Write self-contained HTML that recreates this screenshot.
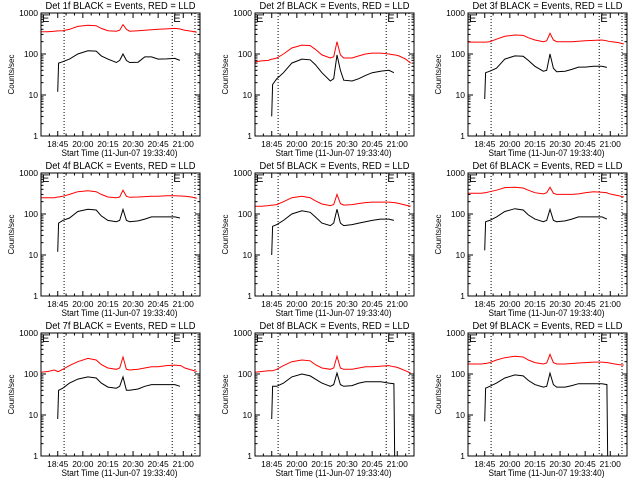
<!DOCTYPE html>
<html><head><meta charset="utf-8"><style>
html,body{margin:0;padding:0;background:#fff;}
svg{display:block;font-family:"Liberation Sans",sans-serif;}
</style></head><body>
<svg id="chart" width="640" height="480" viewBox="0 0 640 480" xmlns="http://www.w3.org/2000/svg">
<rect width="640" height="480" fill="#fff"/>
</svg>
<script>
// minutes since 19:35
const times = [0,4,8,10,10.5,13,17,22,28,33,36,40,45,47,49,51,53,58,62,66,70,75,80,83,83.5,86,90,93];
const n = null;
const detNames = ["1f","2f","3f","4f","5f","6f","7f","8f","9f"];
const red1 = [350,350,360,365,365,370,400,470,500,490,420,370,360,380,520,400,360,370,380,390,400,410,420,410,400,380,360,340];
const black1 = [n,n,n,12,60,65,75,100,120,118,90,75,62,70,100,70,62,63,85,85,75,76,78,70,n,n,n,n];
const red2 = [65,68,70,75,75,80,100,140,165,160,130,95,80,85,200,95,80,80,90,100,105,105,100,95,95,90,75,60];
const black2 = [n,n,n,3,18,25,35,60,75,72,55,35,22,25,95,40,23,22,25,30,35,38,40,35,n,n,n,n];
const red3 = [195,195,195,195,195,200,230,270,290,285,250,220,200,210,320,220,200,200,200,205,210,215,220,210,205,200,190,175];
const black3 = [n,n,n,8,35,38,45,75,90,88,70,50,38,40,100,45,37,38,42,48,48,50,50,47,n,n,n,n];
const red4 = [250,250,250,260,260,270,300,350,370,350,300,260,250,260,380,270,255,260,265,270,270,280,280,275,275,270,260,240];
const black4 = [n,n,n,12,60,70,80,115,130,125,90,70,65,70,130,70,65,68,75,85,85,85,85,80,n,n,n,n];
const red5 = [155,155,160,165,165,170,200,250,270,250,210,175,160,170,300,180,165,170,180,190,195,195,195,190,190,180,165,155];
const black5 = [n,n,n,10,50,55,70,100,120,110,85,60,52,60,130,60,52,55,60,65,70,75,75,70,n,n,n,n];
const red6 = [320,320,320,330,330,350,380,440,450,430,380,330,310,330,450,320,300,300,300,310,330,350,340,330,320,300,280,260];
const black6 = [n,n,n,13,65,70,85,115,135,125,95,75,65,70,130,70,65,68,75,85,85,85,85,75,n,n,n,n];
const red7 = [110,115,125,115,115,130,160,200,240,220,170,140,130,140,260,130,125,130,140,150,150,160,165,160,160,140,125,115];
const black7 = [n,n,n,8,40,45,60,75,85,80,60,48,45,50,85,40,40,43,50,55,55,55,55,50,n,n,n,n];
const red8 = [110,115,120,120,120,130,160,200,220,210,170,140,130,140,270,140,130,130,140,150,150,155,160,150,150,140,120,105];
const black8 = [n,n,n,8,50,50,60,85,100,90,75,60,50,55,105,55,50,52,60,65,65,65,60,58,0.5,n,n,n];
const red9 = [175,175,175,180,180,190,220,250,270,260,220,190,175,185,300,190,175,175,180,185,190,195,195,190,190,180,170,165];
const black9 = [n,n,n,7,45,50,60,80,95,90,70,55,48,50,105,55,48,48,52,58,58,58,58,55,0.5,n,n,n];
const reds = [red1,red2,red3,red4,red5,red6,red7,red8,red9];
const blacks = [black1,black2,black3,black4,black5,black6,black7,black8,black9];
const xTickMin = [10,25,40,55,70,85];
const xTickLabels = ["18:45","20:00","20:15","20:30","20:45","21:00"];
const yTickVals = [1,10,100,1000];
const yTickLabels = ["1","10","100","1000"];
const dottedMin = [13.8,78.4,92];

const NS="http://www.w3.org/2000/svg";
const svg=document.getElementById('chart');
function mk(tag,attrs,parent){const e=document.createElementNS(NS,tag);for(const k in attrs)e.setAttribute(k,attrs[k]);(parent||svg).appendChild(e);return e;}
const colL=[41,255,468], rowT=[13,173,333], W=159, H=123;
for(let p=0;p<9;p++){
  const L=colL[p%3], T=rowT[Math.floor(p/3)];
  const xs=m=>L+m*(W/95);
  const ys=v=>T+H-(Math.log10(v))*(H/3);
  const g=mk('g',{});
  
  
  const cp=mk('clipPath',{id:'cp'+p},g);
  mk('rect',{x:L,y:T,width:W,height:H},cp);
  const t=mk('text',{x:L+W/2,y:T-4,'text-anchor':'middle','font-size':10,textLength:150,lengthAdjust:'spacingAndGlyphs'},g);
  t.textContent='Det '+detNames[p]+' BLACK = Events, RED = LLD';
  
  
  const yt=mk('text',{x:0,y:0,transform:`translate(${L-27},${T+H/2}) rotate(-90)`,'text-anchor':'middle','font-size':8},g);
  yt.textContent='Counts/sec';
  
  
  const xt=mk('text',{x:L+W/2-1,y:T+H+20,'text-anchor':'middle','font-size':9,textLength:116,lengthAdjust:'spacingAndGlyphs'},g);
  xt.textContent='Start Time (11-Jun-07 19:33:40)';
  
  
  yTickVals.forEach((v,i)=>{
    const y=ys(v);
    mk('line',{x1:L,x2:L+5,y1:y,y2:y,stroke:'#000'},g);
    mk('line',{x1:L+W-5,x2:L+W,y1:y,y2:y,stroke:'#000'},g);
    const lb=mk('text',{x:L-3,y:y+3,'text-anchor':'end','font-size':8.5},g);
    lb.textContent=yTickLabels[i];
    
    
    if(v<1000)for(let k=2;k<10;k++){const yy=ys(v*k);
      mk('line',{x1:L,x2:L+2.5,y1:yy,y2:yy,stroke:'#000'},g);
      mk('line',{x1:L+W-2.5,x2:L+W,y1:yy,y2:yy,stroke:'#000'},g);}
  });
  xTickMin.forEach((m,i)=>{
    const x=xs(m);
    mk('line',{x1:x,x2:x,y1:T+H,y2:T+H-5,stroke:'#000'},g);
    mk('line',{x1:x,x2:x,y1:T,y2:T+5,stroke:'#000'},g);
    const lb=mk('text',{x:x,y:T+H+11,'text-anchor':'middle','font-size':8.5},g);
    lb.textContent=xTickLabels[i];
    
    
  });
  for(let m=5;m<95;m+=5){if(m%15===10)continue;const x=xs(m);
    mk('line',{x1:x,x2:x,y1:T+H,y2:T+H-2.5,stroke:'#000'},g);
    mk('line',{x1:x,x2:x,y1:T,y2:T+2.5,stroke:'#000'},g);}
  dottedMin.forEach(m=>{const x=xs(m);
    const dl=mk('line',{x1:x,x2:x,y1:T,y2:T+H,stroke:'#000','stroke-dasharray':'1 2'},g);
    
    });
  [L+1,xs(dottedMin[1])+1].forEach(x=>{const e=mk('text',{x:x,y:T+9,'font-size':11},g);e.textContent='E';
    
    });
  function series(arr,color,name){
    let d='';let pen=false;
    arr.forEach((v,i)=>{if(v===null){pen=false;return;}
      d+=(pen?'L':'M')+xs(times[i]).toFixed(1)+','+ys(v).toFixed(1);pen=true;});
    const pth=mk('path',{d:d,fill:'none',stroke:color,'stroke-width':1,'clip-path':`url(#cp${p})`},g);
    
    
  }
  series(reds[p],'#ff0000','lld-series-red');
  series(blacks[p],'#000000','events-series-black');
  const box=mk('rect',{x:L,y:T,width:W,height:H,fill:'none',stroke:'#000'},g);
  
  
}
</script>
</body></html>
